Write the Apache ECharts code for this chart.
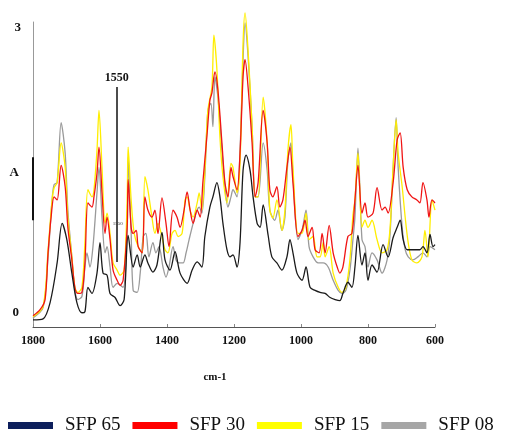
<!DOCTYPE html>
<html><head><meta charset="utf-8">
<script src="https://cdn.jsdelivr.net/npm/echarts@6/dist/echarts.min.js"></script>
<style>html,body{margin:0;padding:0;background:#fff}#c{width:506px;height:434px}</style>
</head><body><div id="c"></div>
<script>
// Series names
const names = ['SFP 65', 'SFP 30', 'SFP 15', 'SFP 08'];

// SFP 65 (black curve)
const wn65 = [1800,1770,1749,1728,1713,1699,1684,1669,1654,1645,1636,1624,1609,1600,1591,1579,1570,1555,1540,1528,1516,1501,1489,1480,1466,1457,1442,1430,1415,1406,1391,1376,1361,1340,1325,1310,1296,1287,1272,1263,1251,1242,1233,1221,1212,1203,1191,1182,1173,1164,1152,1143,1131,1122,1113,1098,1087,1072,1057,1042,1033,1024,1012,997,985,973,958,943,928,913,898,884,875,860,848,839,830,818,809,800,788,773,755,740,725,713,704,695,683,666,645,636,624,615,606,600];
const a65 = [0.07,0.08,0.24,0.63,1.02,0.86,0.53,0.24,0.14,0.15,0.39,0.33,0.53,0.83,0.53,0.51,0.33,0.29,0.21,0.27,0.90,0.59,0.71,0.59,0.71,0.63,0.54,0.61,0.93,0.66,0.56,0.74,0.53,0.43,0.56,0.64,0.59,0.89,1.18,1.28,1.42,1.28,1.02,0.76,0.69,0.71,0.59,0.83,1.54,1.69,1.54,1.28,1.02,0.98,1.20,0.90,0.69,0.63,0.56,0.69,0.86,0.73,0.53,0.46,0.59,0.39,0.36,0.34,0.33,0.29,0.27,0.26,0.33,0.44,0.39,0.59,0.90,0.61,0.73,0.46,0.61,0.54,0.81,0.69,0.88,0.98,1.05,0.86,0.76,0.76,0.76,0.79,0.73,0.91,0.79,0.81];

// SFP 30 (red curve)
const wn30 = [1800,1779,1764,1755,1746,1737,1728,1716,1704,1696,1684,1675,1666,1654,1645,1636,1624,1618,1609,1603,1594,1585,1579,1570,1561,1549,1540,1531,1519,1516,1507,1501,1492,1486,1474,1466,1457,1445,1436,1427,1415,1403,1394,1382,1370,1361,1349,1340,1331,1322,1310,1301,1293,1281,1272,1266,1257,1248,1236,1227,1218,1209,1203,1191,1182,1173,1167,1158,1146,1137,1128,1113,1101,1093,1084,1072,1063,1054,1042,1033,1024,1009,997,988,979,967,958,946,937,928,916,904,892,884,875,860,848,839,830,818,809,800,785,773,758,749,740,725,713,704,695,683,669,654,645,636,624,618,609,600];
const a30 = [0.11,0.17,0.27,0.73,1.08,1.28,1.25,1.59,1.38,0.98,0.66,0.39,0.33,0.34,0.63,1.22,1.18,1.28,1.51,1.77,1.32,0.92,1.08,0.86,0.56,0.46,0.41,0.46,0.98,1.45,0.98,0.92,0.95,0.79,0.73,1.28,1.15,1.08,1.15,0.92,1.27,1.02,0.79,1.15,1.08,0.98,1.15,1.33,1.15,1.02,1.15,1.08,1.42,1.87,2.23,2.30,2.51,2.33,1.81,1.42,1.28,1.57,1.48,1.35,1.71,2.46,2.63,2.36,1.81,1.28,1.42,2.13,1.81,1.35,1.28,1.38,1.18,1.25,1.57,1.77,1.42,0.89,0.95,1.05,0.89,0.98,0.76,0.73,0.92,0.73,1.00,0.73,0.59,0.53,0.59,0.89,0.92,1.25,1.59,1.12,1.22,1.08,1.12,1.37,1.15,1.18,1.12,1.42,1.84,1.91,1.57,1.35,1.28,1.25,1.22,1.42,1.25,1.08,1.25,1.22];

// SFP 15 (yellow curve)
const wn15 = [1800,1770,1755,1743,1737,1728,1716,1704,1696,1684,1675,1666,1654,1645,1636,1624,1618,1609,1603,1594,1585,1579,1570,1561,1549,1540,1528,1519,1516,1507,1498,1486,1474,1466,1457,1445,1436,1427,1415,1406,1397,1385,1376,1367,1355,1346,1340,1331,1322,1310,1304,1296,1287,1278,1266,1260,1251,1242,1233,1221,1209,1203,1191,1182,1173,1167,1158,1146,1137,1128,1113,1101,1093,1084,1072,1057,1048,1039,1030,1024,1009,997,985,976,964,952,943,934,928,916,904,889,878,866,854,845,839,830,818,809,800,788,773,758,743,734,725,716,710,698,689,680,669,654,639,630,621,609,600];
const a15 = [0.10,0.20,0.76,1.25,1.37,1.42,1.81,1.57,1.08,0.69,0.39,0.34,0.39,0.83,1.35,1.28,1.35,1.74,2.13,1.57,1.02,1.12,0.92,0.63,0.56,0.51,0.56,1.25,1.77,1.25,0.92,0.79,0.73,1.48,1.35,1.08,0.92,1.02,0.89,0.76,0.73,0.92,0.95,0.89,0.92,1.25,1.28,1.15,1.08,1.22,1.32,1.15,1.54,2.13,2.36,2.87,2.53,1.87,1.48,1.22,1.61,1.57,1.32,1.61,2.79,3.09,2.72,1.97,1.28,1.28,2.26,1.81,1.15,1.07,1.25,0.95,1.15,1.74,1.99,1.57,0.92,0.92,1.12,0.86,0.89,0.69,0.69,0.83,0.69,0.79,0.53,0.39,0.34,0.39,0.66,1.10,1.25,1.71,0.98,1.05,0.98,1.05,0.86,0.73,0.76,0.98,1.57,2.04,1.71,1.38,1.08,0.83,0.66,0.63,0.69,0.95,0.69,1.25,1.15];

// SFP 08 (gray curve)
const wn08 = [1800,1770,1755,1743,1737,1728,1716,1704,1696,1684,1675,1666,1654,1645,1639,1630,1621,1609,1603,1594,1585,1579,1570,1561,1549,1531,1519,1516,1507,1501,1489,1480,1471,1463,1454,1442,1433,1424,1412,1403,1394,1382,1373,1364,1352,1343,1334,1322,1310,1304,1296,1287,1278,1269,1263,1257,1248,1236,1227,1218,1209,1203,1191,1182,1173,1167,1158,1146,1137,1128,1113,1101,1093,1078,1069,1057,1048,1039,1030,1024,1009,997,985,976,964,949,934,919,904,889,878,866,854,845,839,830,818,809,800,788,773,758,743,734,725,716,710,698,689,680,666,651,636,624,615,600];
const a08 = [0.09,0.19,0.69,1.25,1.40,1.42,2.01,1.71,1.15,0.69,0.36,0.27,0.30,0.59,0.73,0.59,0.79,1.32,1.57,1.08,0.73,0.79,0.59,0.39,0.43,0.39,0.92,1.67,0.92,0.36,0.34,0.53,0.89,0.92,0.69,0.83,0.73,0.79,0.59,0.49,0.59,0.79,0.66,0.63,0.63,0.73,0.86,1.02,1.15,1.18,1.12,1.48,2.13,2.20,1.97,2.46,2.26,1.74,1.38,1.18,1.28,1.35,1.28,1.74,2.63,2.99,2.66,1.97,1.28,1.28,1.81,1.54,1.15,1.05,1.15,0.95,1.08,1.64,1.81,1.48,0.86,0.95,1.15,0.79,0.69,0.63,0.63,0.59,0.46,0.36,0.33,0.36,0.56,0.86,1.08,1.76,0.86,0.79,0.59,0.73,0.66,0.53,0.66,0.92,1.57,2.06,1.57,0.98,0.76,0.69,0.66,0.69,0.73,0.69,0.79,0.76];

// Annotations
const markWn = 1550;
const markRange = [0.64, 2.36];
const axisSegment = [1.05, 1.67];

const serif = '"Liberation Serif","Times New Roman",serif';
function pairs(w, a) { return w.map((x, i) => [x, a[i]]); }

const chart = echarts.init(document.getElementById('c'), null, {renderer: 'canvas'});

function mk(name, w, a, color, z, extra) {
  return Object.assign({
    type: 'line', name: name, data: pairs(w, a),
    symbol: 'none', showSymbol: false, smooth: 0.3, clip: false,
    lineStyle: {color: color, width: 1.3}, itemStyle: {color: color},
    z: z, emphasis: {disabled: true}
  }, extra || {});
}

const lblStyle = {show: true, position: 'end', formatter: String(markWn), fontFamily: serif, fontSize: 12, fontWeight: 'bold', color: '#111', distance: 3};

const option = {
  animation: false,
  backgroundColor: '#fff',
  grid: {left: 33, right: 71, top: 22, bottom: 107},
  xAxis: {
    type: 'value', inverse: true, min: 600, max: 1800, interval: 200,
    axisLine: {lineStyle: {color: '#555', width: 1}},
    axisTick: {inside: true, length: 3, lineStyle: {color: '#888'}},
    splitLine: {show: false},
    axisLabel: {fontFamily: serif, fontSize: 12, fontWeight: 'bold', color: '#111', margin: 8, formatter: v => String(v)},
    name: 'cm-1', nameLocation: 'middle', nameGap: 45,
    nameTextStyle: {fontFamily: serif, fontSize: 11, fontWeight: 'bold', color: '#111', padding: [0, 38, 0, 0]}
  },
  yAxis: {
    type: 'value', min: 0, max: 3, interval: 1.5,
    axisLine: {show: true, lineStyle: {color: '#999', width: 1}},
    axisTick: {show: false}, splitLine: {show: false},
    axisLabel: {
      margin: 12, showMinLabel: true, showMaxLabel: true,
      formatter: v => v === 0 ? '{z|0}' : (v === 3 ? '{t|3}' : '{a|A}'),
      rich: {
        z: {fontFamily: serif, fontSize: 13, fontWeight: 'bold', color: '#111', padding: [0, 2, 28, 0]},
        t: {fontFamily: serif, fontSize: 13, fontWeight: 'bold', color: '#111', padding: [12, 0, 0, 0]},
        a: {fontFamily: serif, fontSize: 13, fontWeight: 'bold', color: '#111', padding: [0, 2, 4, 0]}
      }
    }
  },
  legend: {
    top: 416, left: 8, width: 498, padding: 0, icon: 'rect', itemWidth: 45, itemHeight: 7, itemGap: 12,
    textStyle: {fontFamily: serif, fontSize: 19, color: '#111', padding: [0, 0, 0, 7]},
    data: [
      {name: names[0], itemStyle: {color: '#0d1f5c'}},
      {name: names[1], itemStyle: {color: '#ff0000'}},
      {name: names[2], itemStyle: {color: '#ffff00'}},
      {name: names[3], itemStyle: {color: '#a6a6a6'}}
    ]
  },
  series: [
    mk(names[0], wn65, a65, '#1a1a1a', 5, {
      markLine: {
        silent: true, symbol: ['none', 'none'], animation: false,
        lineStyle: {type: 'solid'},
        data: [
          [{coord: [markWn, markRange[0]], lineStyle: {color: '#111', width: 1.5, type: 'solid'}, label: lblStyle},
           {coord: [markWn, markRange[1]], lineStyle: {color: '#111', width: 1.5, type: 'solid'}, label: lblStyle}],
          [{coord: [1800, axisSegment[0]], lineStyle: {color: '#111', width: 2, type: 'solid'}, label: {show: false}},
           {coord: [1800, axisSegment[1]], lineStyle: {color: '#111', width: 2, type: 'solid'}, label: {show: false}}]
        ]
      },
      markPoint: {
        silent: true, animation: false,
        data: [{coord: [1547, 1.02], symbol: 'circle', symbolSize: 1, itemStyle: {color: 'rgba(0,0,0,0)'},
                label: {show: true, position: 'inside', formatter: String(markWn), fontSize: 5, color: '#333', fontFamily: serif}}]
      }
    }),
    mk(names[1], wn30, a30, '#f01414', 4),
    mk(names[2], wn15, a15, '#ffee00', 3),
    mk(names[3], wn08, a08, '#9a9a9a', 2)
  ]
};
chart.setOption(option);
</script>
</body></html>
